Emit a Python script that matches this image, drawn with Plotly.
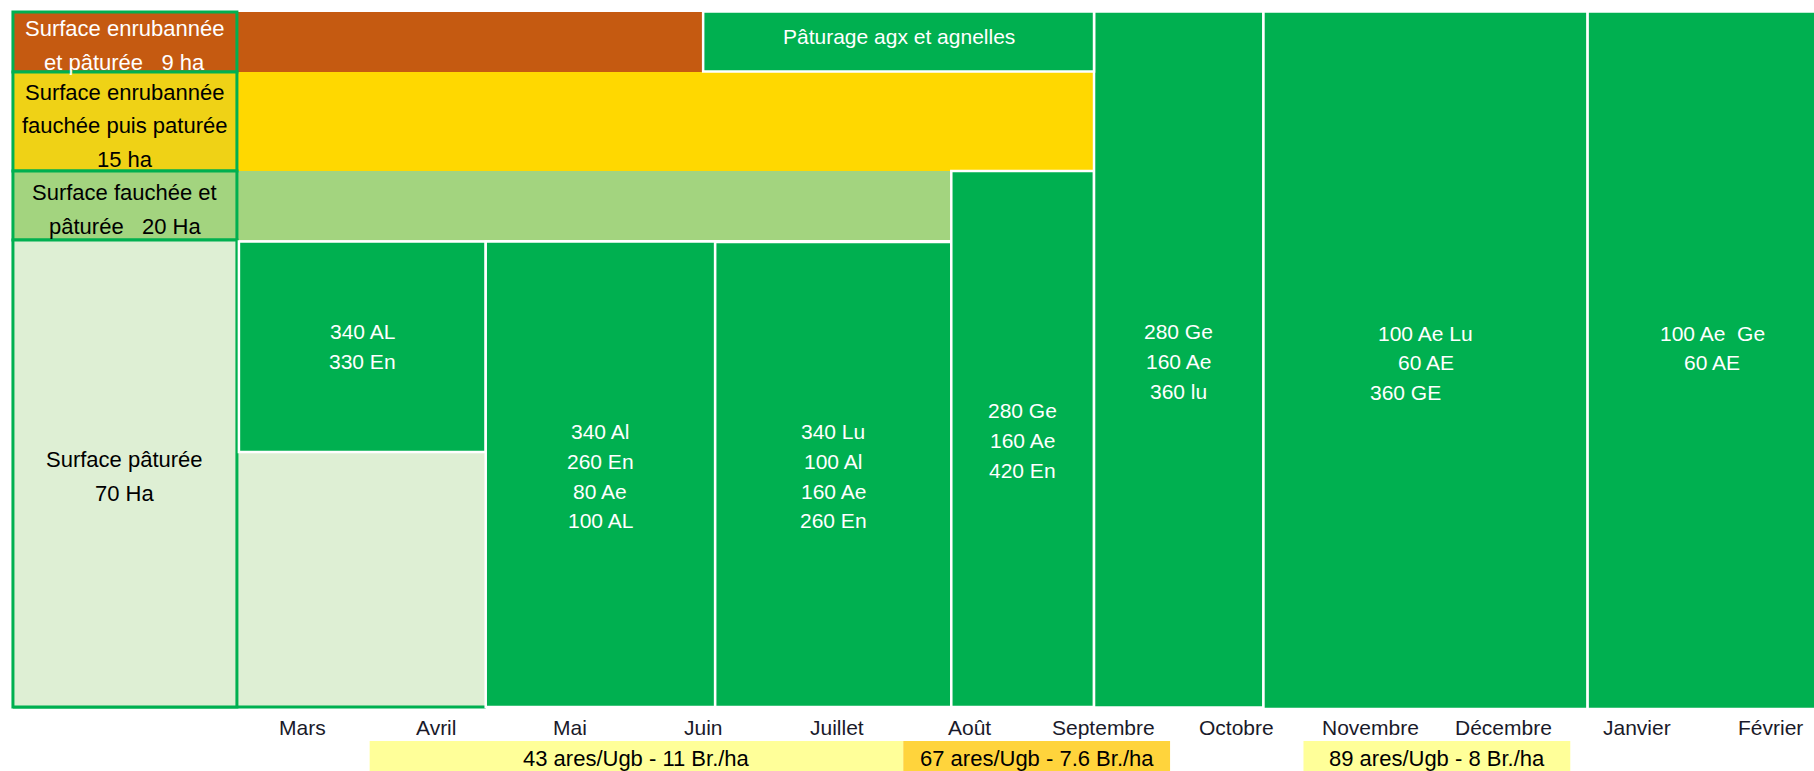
import plotly.graph_objects as go

# ---------------- DATA ----------------
months = ["Mars", "Avril", "Mai", "Juin", "Juillet", "Août", "Septembre",
          "Octobre", "Novembre", "Décembre", "Janvier", "Février"]
month_pos = list(range(1, 13))

# Surfaces (rows)
surface_lines = [
    ["Surface enrubannée", "et pâturée\u00a0\u00a0\u00a09 ha"],
    ["Surface enrubannée", "fauchée puis paturée", "15 ha"],
    ["Surface fauchée et", "pâturée\u00a0\u00a0\u00a020 Ha"],
    ["Surface pâturée", "70 Ha"],
]
surface_ha = [9, 15, 20, 70]
surface_use_end = [4.0, 6.93, 5.86, 2.37]   # month position where the row's own use ends

# Grazing blocks (month positions)
block_start = [0.52, 2.37, 4.09, 5.86, 6.93, 8.20, 10.63, 4.00]
block_end = [2.37, 4.09, 5.86, 6.93, 8.20, 10.63, 12.50, 6.93]
block_lines = [
    ["340 AL", "330 En"],
    ["340 Al", "260 En", "80 Ae", "100 AL"],
    ["340 Lu", "100 Al", "160 Ae", "260 En"],
    ["280 Ge", "160 Ae", "420 En"],
    ["280 Ge", "160 Ae", "360 lu"],
    ["100 Ae Lu", "60 AE", "360 GE" + "\u00a0" * 7],
    ["100 Ae\u00a0\u00a0Ge", "60 AE"],
    ["Pâturage agx et agnelles"],
]

# Stocking-rate bands under the calendar
band_start = [1.5, 5.5, 8.5]
band_end = [5.5, 7.5, 10.5]
band_text = ["43 ares/Ugb - 11 Br./ha", "67 ares/Ugb - 7.6 Br./ha", "89 ares/Ugb - 8 Br./ha"]

# ---------------- LAYOUT / STYLE ----------------
W, H = 1814, 771
X_RANGE = [-1.271, 12.327]
LABEL_COL = (-1.174, 0.505)

row_top = [12, 72, 171, 240]
row_bottom = [72, 171, 240, 707]
row_fill = ["#C55A11", "#FFD800", "#A3D47F", "#DEEFD4"]
label_fill = ["#C55A11", "#EFD216", "#A3D47F", "#DEEFD4"]
label_color = ["white", "black", "black", "black"]
label_first_y = [28, 92, 192, 459]
label_step = [34, 33.5, 34, 34]

block_top = [241.5, 241.5, 242, 171, 11.5, 11.5, 11.5, 11.5]
block_bottom = [452, 707, 707, 707, 707.5, 709, 709, 71.5]
block_first_y = [331.7, 431.7, 431.7, 410.7, 331.7, 333, 333, 36.7]
block_step = 29.7

band_colors = ["#FFFF99", "#FFD43C", "#FFFF99"]
band_y = (741, 775)

GREEN = "#00B050"
FONT = "Liberation Sans, Arial, sans-serif"
FS = 21

shapes = []
annotations = []

# row fills
for i in range(len(surface_ha)):
    shapes.append(dict(type="rect", xref="x", yref="y", x0=LABEL_COL[1], x1=surface_use_end[i],
                       y0=row_top[i], y1=row_bottom[i], fillcolor=row_fill[i], line_width=0,
                       layer="below"))
# bottom border of pasture row
shapes.append(dict(type="line", xref="x", yref="y", x0=LABEL_COL[0], x1=surface_use_end[3],
                   y0=row_bottom[3], y1=row_bottom[3], line=dict(color=GREEN, width=3)))

# label cells
for i in range(len(surface_ha)):
    shapes.append(dict(type="rect", xref="x", yref="y", x0=LABEL_COL[0], x1=LABEL_COL[1],
                       y0=row_top[i], y1=row_bottom[i], fillcolor=label_fill[i],
                       line=dict(color=GREEN, width=3)))
    xc = (LABEL_COL[0] + LABEL_COL[1]) / 2
    for k, t in enumerate(surface_lines[i]):
        annotations.append(dict(x=xc, y=label_first_y[i] + k * label_step[i], xref="x", yref="y",
                                text=t, showarrow=False, xanchor="center", yanchor="middle",
                                font=dict(family=FONT, size=FS + 1, color=label_color[i])))

# grazing blocks
for j in range(len(block_start)):
    shapes.append(dict(type="rect", xref="x", yref="y", x0=block_start[j], x1=block_end[j],
                       y0=block_top[j], y1=block_bottom[j], fillcolor=GREEN,
                       line=dict(color="white", width=2.5)))
    xc = (block_start[j] + min(block_end[j], 12.5)) / 2
    for k, t in enumerate(block_lines[j]):
        annotations.append(dict(x=xc, y=block_first_y[j] + k * block_step, xref="x", yref="y",
                                text=t, showarrow=False, xanchor="center", yanchor="middle",
                                font=dict(family=FONT, size=FS, color="white")))

# month labels
for m, p in zip(months, month_pos):
    annotations.append(dict(x=p, y=727, xref="x", yref="y", text=m, showarrow=False,
                            xanchor="center", yanchor="middle",
                            font=dict(family=FONT, size=FS, color="#1A1A2A")))

# stocking bands
for s, e, t, c in zip(band_start, band_end, band_text, band_colors):
    shapes.append(dict(type="rect", xref="x", yref="y", x0=s, x1=e, y0=band_y[0], y1=band_y[1],
                       fillcolor=c, line_width=0, layer="below"))
    annotations.append(dict(x=(s + e) / 2, y=758, xref="x", yref="y", text=t, showarrow=False,
                            xanchor="center", yanchor="middle",
                            font=dict(family=FONT, size=FS + 1, color="black")))

fig = go.Figure(go.Scatter(x=[0], y=[0], mode="markers", marker=dict(opacity=0),
                           hoverinfo="skip", showlegend=False))
fig.update_layout(
    width=W, height=H, margin=dict(l=0, r=0, t=0, b=0),
    paper_bgcolor="white", plot_bgcolor="white",
    xaxis=dict(range=X_RANGE, visible=False, fixedrange=True),
    yaxis=dict(range=[H, 0], visible=False, fixedrange=True),
    shapes=shapes, annotations=annotations, showlegend=False,
)
fig.write_html("out.html", config={"displayModeBar": False},
               post_script="document.body.style.margin='0';document.body.style.overflow='hidden';")
